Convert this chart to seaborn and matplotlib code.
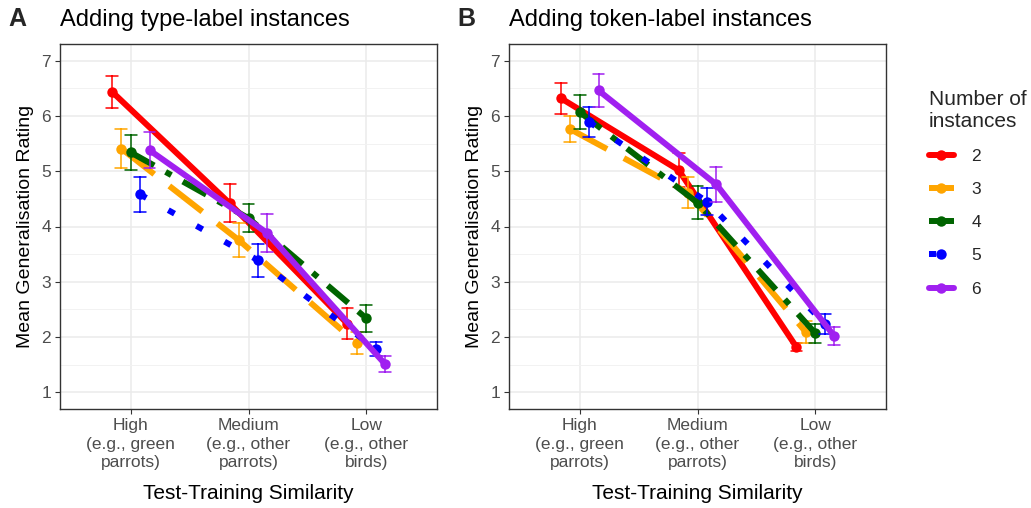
import numpy as np
import pandas as pd
import matplotlib
matplotlib.use("Agg")
import matplotlib.pyplot as plt
import seaborn as sns

# ---------------- data ----------------
similarity = ["High\n(e.g., green\nparrots)",
              "Medium\n(e.g., other\nparrots)",
              "Low\n(e.g., other\nbirds)"]
instances = ["2", "3", "4", "5", "6"]

# Panel A: adding type-label instances (means, half-width of error bars)
type_mean = {
    "2": [6.44, 4.42, 2.24],
    "3": [5.41, 3.75, 1.89],
    "4": [5.34, 4.15, 2.34],
    "5": [4.58, 3.39, 1.79],
    "6": [5.38, 3.88, 1.51],
}
type_err = {
    "2": [0.29, 0.34, 0.28],
    "3": [0.35, 0.31, 0.20],
    "4": [0.31, 0.25, 0.24],
    "5": [0.32, 0.30, 0.13],
    "6": [0.32, 0.34, 0.14],
}
# Panel B: adding token-label instances
token_mean = {
    "2": [6.32, 5.02, 1.82],
    "3": [5.76, 4.61, 2.09],
    "4": [6.07, 4.43, 2.07],
    "5": [5.89, 4.45, 2.24],
    "6": [6.46, 4.76, 2.02],
}
token_err = {
    "2": [0.28, 0.31, 0.08],
    "3": [0.23, 0.28, 0.20],
    "4": [0.30, 0.30, 0.17],
    "5": [0.27, 0.25, 0.18],
    "6": [0.30, 0.32, 0.16],
}

colors = ["#FF0000", "#FFA500", "#006400", "#0000FF", "#A020F0"]
linestyles = ["-", (0, (7, 3.2)), (0, (4.5, 2.2, 1.1, 2.2)), (0, (1.2, 4.2)), "-"]


def make_frame(means, errs):
    rows = []
    for n in instances:
        for s, m, e in zip(similarity, means[n], errs[n]):
            # two values whose mean is m and whose range is m +/- e
            rows.append({"sim": s, "n": n, "val": m - e})
            rows.append({"sim": s, "n": n, "val": m + e})
    return pd.DataFrame(rows)


df_type = make_frame(type_mean, type_err)
df_token = make_frame(token_mean, token_err)

# ---------------- style ----------------
sns.set_theme(style="white")
plt.rcParams["font.family"] = ["Liberation Sans", "DejaVu Sans"]

fig = plt.figure(figsize=(10.31, 5.08), dpi=100)
axA = fig.add_axes([60 / 1031, 1 - 409 / 508, 377 / 1031, 365 / 508])
axB = fig.add_axes([509 / 1031, 1 - 409 / 508, 377 / 1031, 365 / 508])

for ax, df, title, show_legend in [
    (axA, df_type, "Adding type-label instances", False),
    (axB, df_token, "Adding token-label instances", True),
]:
    sns.pointplot(
        data=df, x="sim", y="val", hue="n",
        order=similarity, hue_order=instances,
        palette=colors, estimator="mean", errorbar=("pi", 100),
        dodge=0.32, capsize=0.1, markers="o", linestyles=linestyles,
        linewidth=4.3, markersize=7.5, markeredgewidth=0,
        err_kws={"linewidth": 1.1},
        legend=show_legend, ax=ax,
    )
    ax.set_xlim(-0.6, 2.6)
    ax.set_ylim(0.7, 7.3)
    ax.set_yticks([1, 2, 3, 4, 5, 6, 7])
    ax.set_yticks(np.arange(1.5, 7.0, 1.0), minor=True)
    ax.grid(True, which="major", color="#EBEBEB", linewidth=1.1)
    ax.grid(True, which="minor", axis="y", color="#F2F2F2", linewidth=0.7)
    ax.set_axisbelow(True)
    for sp in ax.spines.values():
        sp.set_visible(True)
        sp.set_color("#333333")
        sp.set_linewidth(1.0)
    ax.tick_params(axis="both", which="major", length=3.5, width=0.8,
                   color="#333333", labelcolor="#4D4D4D", labelsize=12.5,
                   left=True, bottom=True)
    ax.tick_params(axis="x", which="major", pad=3)
    ax.tick_params(axis="y", which="major", pad=3)
    ax.tick_params(axis="y", which="minor", length=0)
    for lab in ax.get_xticklabels():
        lab.set_linespacing(1.3)
    ax.set_xlabel("Test-Training Similarity", fontsize=15, color="black", labelpad=10)
    ax.set_ylabel("Mean Generalisation Rating", fontsize=14, color="black", labelpad=5)
    ax.set_title(title, loc="left", fontsize=17, color="black", pad=13)

fig.text(8 / 1031, 1 - 26 / 508, "A", fontsize=18, fontweight="bold", ha="left", va="baseline")
fig.text(457 / 1031, 1 - 26 / 508, "B", fontsize=18, fontweight="bold", ha="left", va="baseline")

handles, labels = axB.get_legend_handles_labels()
axB.get_legend().remove()
fig.legend(handles, labels, title="Number of\ninstances",
           loc="upper left", bbox_to_anchor=(913 / 1031, 1 - 74 / 508),
           frameon=False, fontsize=12.5, title_fontsize=15,
           handlelength=1.45, labelspacing=1.04, alignment="left",
           handletextpad=1.0)

fig.savefig("out.png", dpi=100)
